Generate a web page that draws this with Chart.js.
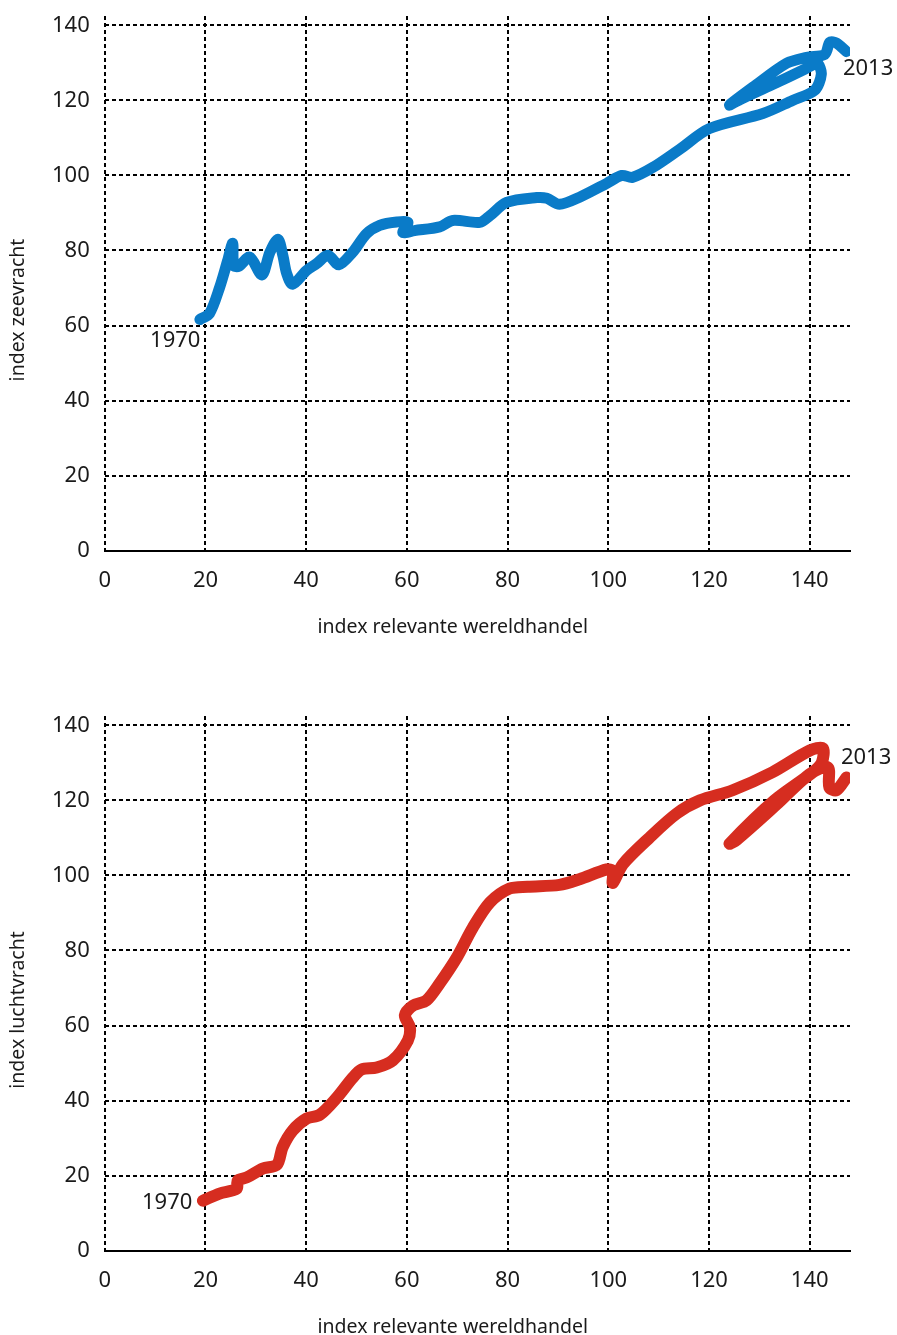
<!DOCTYPE html>
<html>
<head>
<meta charset="utf-8">
<script src="https://cdn.jsdelivr.net/npm/chart.js@4"></script>
<style>
  html, body { margin: 0; padding: 0; background: #fff; overflow: hidden; }
  .wrap { position: absolute; left: 0; width: 897px; height: 700px; }
</style>
</head>
<body>
<div class="wrap" style="top:0"><canvas id="seaChart" width="897" height="700"></canvas></div>
<div class="wrap" style="top:700px"><canvas id="airChart" width="897" height="700"></canvas></div>
<script>
// index relevante wereldhandel (x) vs index zeevracht (y), 1970 -> 2013
const seaX = [18.9, 20.8, 22.8, 24.4, 25.4, 25.6, 26.6, 28.8, 31.2, 32.8, 34.4, 35.4, 36.1, 37.3, 40.1,
  42.1, 44.3, 46.5, 49.2, 52, 54.6, 58, 60.2, 59.2, 61.5, 66.5, 69.1, 74.5, 76.5, 79.8, 85.8, 87.8,
  90.3, 94.3, 99.7, 102.7, 104.8, 108.8, 114.2, 120.1, 130.7, 136.6, 141, 142.3, 141.5, 139,
  132.6, 126.1, 124.1, 128.7, 135.4, 139.4, 143, 144, 145.3, 147.3];
const seaY = [61.6, 63.2, 70.1, 77.3, 81.9, 76, 75.8, 78.2, 73.5, 79.5, 83, 78.5, 74, 71, 74.7,
  76.5, 78.7, 76.2, 79.5, 84.5, 86.7, 87.6, 87.5, 84.8, 85.3, 86.3, 88, 87.5, 89.3, 92.8, 94.1, 93.9,
  92.3, 94.2, 97.9, 100, 99.5, 102.1, 107, 112.5, 116.5, 120, 122.7, 127, 129.8, 128.3,
  124.2, 120.2, 118.8, 123.5, 129.9, 131.5, 132.3, 135.5, 135.3, 133];

// index relevante wereldhandel (x) vs index luchtvracht (y), 1970 -> 2013
const airX = [19.5, 22.8, 26.2, 26.4, 28.2, 31.4, 34.2, 35.3, 37.3, 40.1, 42.7, 46.1, 49.2, 51, 54,
  57.2, 60.2, 60.6, 59.6, 61.2, 63.9, 66.5, 69.9, 73.1, 76.5, 80.4, 84, 90.3, 94.3, 99.7, 100.9,
  100.9, 102.9, 108.2, 113.6, 118.2, 124.7, 132.6, 140, 142.6, 142.4, 140.6, 133, 124.1, 125.5,
  133.5, 140, 143.6, 143.9, 145.3, 147.3];
const airY = [13.3, 15.2, 16.5, 18.7, 19.5, 21.9, 22.9, 27.5, 32, 35.2, 36.2, 40.8, 46, 48.3, 48.8,
  50.7, 56, 59.5, 62.7, 65.3, 66.7, 71.2, 78.1, 86.1, 92.8, 96.5, 97, 97.5, 99, 101.6, 101.2,
  98, 103, 110.1, 116.5, 120, 122.7, 127.5, 133.3, 133.9, 130.1, 127.5, 120, 108.5, 109.5,
  119, 127, 128.8, 123.5, 122.7, 126.1];

const xTicks = [0, 20, 40, 60, 80, 100, 120, 140];
const yTicks = [0, 20, 40, 60, 80, 100, 120, 140];

const TEXT = "#1a1a1a";
const FONT = "'Noto Sans', 'Open Sans', sans-serif";

// axis titles + year labels, drawn relative to the chart area
const chartText = {
  id: "chartText",
  afterDatasetsDraw(chart, args, opts) {
    const { ctx, scales, chartArea } = chart;
    ctx.save();
    ctx.fillStyle = TEXT;
    ctx.textBaseline = "middle";

    ctx.font = "22px " + FONT;
    opts.years.forEach(it => {
      ctx.textAlign = it.align;
      ctx.fillText(it.text, scales.x.getPixelForValue(it.x), scales.y.getPixelForValue(it.y));
    });

    ctx.font = "19.5px " + FONT;
    ctx.textAlign = "center";
    ctx.fillText(opts.xTitle, chartArea.left + 348, chartArea.bottom + 77);

    ctx.translate(18, chartArea.top + 294);
    ctx.rotate(-Math.PI / 2);
    ctx.fillText(opts.yTitle, 0, 0);
    ctx.restore();
  },
};

function keepTicks(list) {
  return scale => {
    scale.ticks = list.map(v => ({ value: v }));
  };
}

function makeChart(id, xs, ys, color, width, yTitle, years) {
  const points = xs.map((x, i) => ({ x: x, y: ys[i] }));
  return new Chart(document.getElementById(id), {
    type: "scatter",
    data: {
      datasets: [{
        data: points,
        showLine: true,
        borderColor: color,
        backgroundColor: color,
        borderWidth: width,
        borderCapStyle: "round",
        borderJoinStyle: "round",
        tension: 0.3,
        pointRadius: 0,
      }],
    },
    options: {
      responsive: false,
      animation: false,
      layout: { padding: { left: 51, right: 47, top: 16, bottom: 89 } },
      plugins: {
        legend: { display: false },
        tooltip: { enabled: false },
        chartText: { years: years, xTitle: "index relevante wereldhandel", yTitle: yTitle },
      },
      scales: {
        x: {
          type: "linear",
          min: 0,
          max: 148,
          afterBuildTicks: keepTicks(xTicks),
          grid: { color: "#000", lineWidth: 2, drawTicks: false },
          border: { display: true, color: "#000", width: 2, dash: [4, 3] },
          ticks: { color: TEXT, font: { family: FONT, size: 22 }, padding: 17 },
        },
        y: {
          type: "linear",
          min: 0,
          max: 142.5,
          afterBuildTicks: keepTicks(yTicks),
          // invisible tick marks give the label gap without padding the top
          grid: { color: "#000", lineWidth: 2, drawTicks: true, tickLength: 14, tickColor: "rgba(0,0,0,0)" },
          border: { display: false, dash: [4, 3] },
          ticks: { color: TEXT, font: { family: FONT, size: 22 }, padding: 1 },
        },
      },
    },
    plugins: [chartText],
  });
}

makeChart("seaChart", seaX, seaY, "#0a7bc8", 11, "index zeevracht", [
  { text: "1970", x: 19, y: 56, align: "right" },
  { text: "2013", x: 146.6, y: 128.5, align: "left" },
]);

makeChart("airChart", airX, airY, "#d62d20", 12, "index luchtvracht", [
  { text: "1970", x: 17.4, y: 12.8, align: "right" },
  { text: "2013", x: 146.2, y: 131.5, align: "left" },
]);
</script>
</body>
</html>
